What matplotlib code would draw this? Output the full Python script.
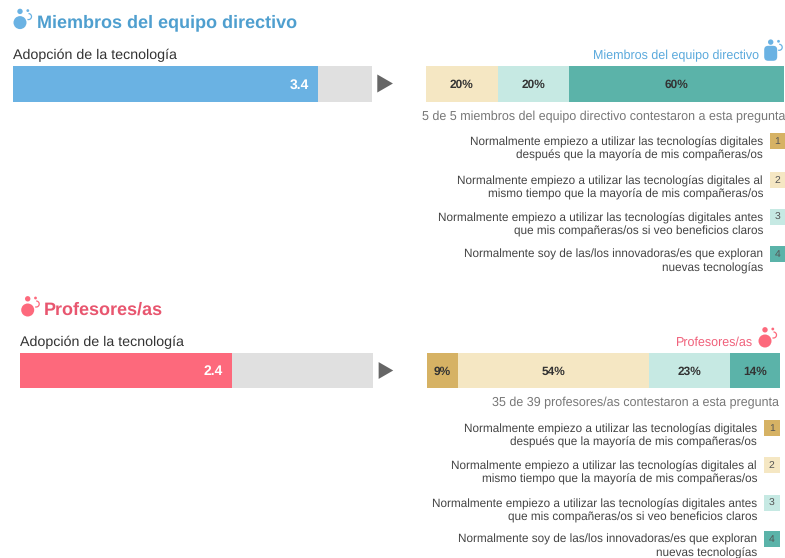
import matplotlib
matplotlib.use("Agg")
import matplotlib.pyplot as plt
from matplotlib.patches import Arc, Circle, FancyBboxPatch

plt.rcParams["font.family"] = ["Liberation Sans", "DejaVu Sans"]
plt.rcParams["text.hinting"] = "no_hinting"

W, H = 785, 558

GROUP_TITLES = ["Miembros del equipo directivo", "Profesores/as"]
GROUP_SCORES = [3.4, 2.4]
SCORE_MAX = 4
SCORE_LABEL = "Adopción de la tecnología"
GROUP_SHARES = [[0, 20, 20, 60], [9, 54, 23, 14]]
ANSWERED = ["5 de 5 miembros del equipo directivo contestaron a esta pregunta",
            "35 de 39 profesores/as contestaron a esta pregunta"]
LEGEND_TEXT = [
    "Normalmente empiezo a utilizar las tecnologías digitales\ndespués que la mayoría de mis compañeras/os",
    "Normalmente empiezo a utilizar las tecnologías digitales al\nmismo tiempo que la mayoría de mis compañeras/os",
    "Normalmente empiezo a utilizar las tecnologías digitales antes\nque mis compañeras/os si veo beneficios claros",
    "Normalmente soy de las/los innovadoras/es que exploran\nnuevas tecnologías",
]
LEGEND_NUMS = ["1", "2", "3", "4"]

SHARE_COLORS = ["#d6b264", "#f5e7c3", "#c6e9e3", "#5bb3a9"]
TITLE_COLORS = ["#4f9fcf", "#e8566f"]
BAR_COLORS = ["#6ab2e3", "#fd697c"]
LABEL_COLORS = ["#5aa9dc", "#f0607a"]

fig = plt.figure(figsize=(W / 100, H / 100), dpi=100, facecolor="white")

# overlay in pixel coords for the text and icons
bg = fig.add_axes([0, 0, 1, 1])
bg.set_xlim(0, W)
bg.set_ylim(H, 0)
bg.axis("off")


def px_axes(x0, x1, y0, y1):
    ax = fig.add_axes([x0 / W, 1 - y1 / H, (x1 - x0) / W, (y1 - y0) / H])
    ax.axis("off")
    ax.set_ylim(0, 1)
    return ax


def icon(x, y, color, big=6.5, square=False):
    if square:
        bg.add_patch(FancyBboxPatch((x - 3, y - 4), 6, 8, boxstyle="round,pad=3.5,rounding_size=4",
                                    color=color, lw=0))
    else:
        bg.add_patch(Circle((x, y), big, color=color, lw=0))
    bg.add_patch(Circle((x, y - 11.2), 2.7, color=color, lw=0))
    bg.add_patch(Circle((x + 7.8, y - 12), 1.4, color=color, lw=0))
    bg.add_patch(Arc((x + 8.5, y - 6), 6, 6, theta1=-90, theta2=110, color=color, lw=0.9))


def group(i, tx, ty, icon_xy, bar_x, bar_y, share_x, label_xy, small_icon_xy,
          text_right, box_x, legend_ys, answered_y, answered_x, square, arrow):
    icon(icon_xy[0], icon_xy[1], BAR_COLORS[i])
    bg.text(tx, ty, GROUP_TITLES[i], fontsize=13.0, fontweight="bold",
            color=TITLE_COLORS[i], va="center", ha="left")
    bg.text(bar_x[0], bar_y[0] - 11, SCORE_LABEL, fontsize=10.3, color="#333333",
            va="center", ha="left")

    # score bar
    ax = px_axes(bar_x[0], bar_x[1], bar_y[0], bar_y[1])
    ax.set_xlim(0, SCORE_MAX)
    ax.barh(0.5, SCORE_MAX, height=1, color="#e0e0e0", lw=0)
    ax.barh(0.5, GROUP_SCORES[i], height=1, color=BAR_COLORS[i], lw=0)
    ax.text(GROUP_SCORES[i] - 0.1, 0.47, str(GROUP_SCORES[i]), color="white",
            fontsize=10, fontweight="bold", ha="right", va="center")

    # arrow between the two bars
    bg.plot([arrow[0]], [arrow[1]], marker=(3, 0, -90), ms=arrow[2],
            color="#666666", mew=0)

    # stacked shares
    ax = px_axes(share_x[0], share_x[1], bar_y[0], bar_y[1])
    ax.set_xlim(0, 100)
    left = 0
    for val, col in zip(GROUP_SHARES[i], SHARE_COLORS):
        if val:
            ax.barh(0.5, val, left=left, height=1, color=col, lw=0)
            ax.text(left + val / 2, 0.47, f"{val}%", color="#333333", fontsize=8.6,
                    fontweight="bold", ha="center", va="center")
        left += val

    bg.text(label_xy[0], label_xy[1], GROUP_TITLES[i], fontsize=9.0, color=LABEL_COLORS[i],
            ha="right", va="center")
    icon(small_icon_xy[0], small_icon_xy[1], BAR_COLORS[i], big=6.5, square=square)
    bg.text(answered_x, answered_y, ANSWERED[i], fontsize=9.0, color="#777777",
            ha="right", va="center")

    # legend
    for txt, num, col, ly in zip(LEGEND_TEXT, LEGEND_NUMS, SHARE_COLORS, legend_ys):
        bg.text(text_right, ly + 7.5, txt, fontsize=8.45, color="#444444", ha="right",
                va="center", linespacing=1.22)
        bg.add_patch(plt.Rectangle((box_x, ly - 8), 15.5, 16, color=col, lw=0))
        bg.text(box_x + 7.75, ly, num, fontsize=7.5, color="#555555", ha="center", va="center")


group(0, 37, 23, (20, 22.6), (13, 372), (66, 102), (426, 784), (759, 55.5), (770.7, 53.3),
      763, 769.5, [141, 180, 217, 254], 116.5, 785, True, (381.5, 82.5, 15))
group(1, 44, 310, (27.7, 310), (20, 373), (353, 388), (426.5, 779.5), (753, 342.5), (765, 341),
      757, 764, [428, 465, 503, 539], 402.5, 779, False, (383, 369.5, 14))

fig.savefig("out.png", dpi=100, facecolor="white")
